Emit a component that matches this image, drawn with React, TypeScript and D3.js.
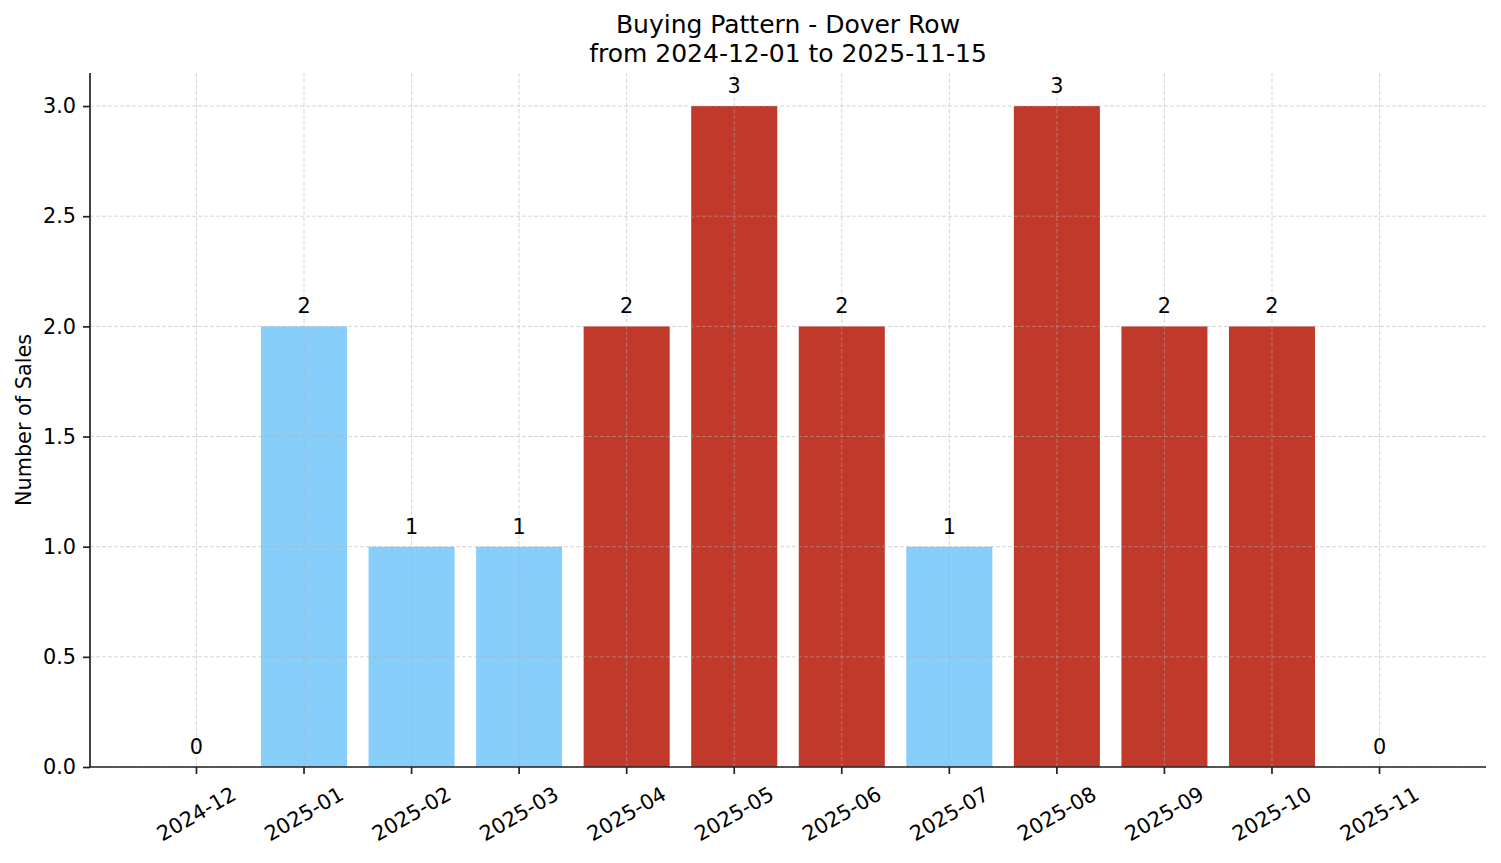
import { useEffect, useRef } from "react";
import * as d3 from "d3";

const months = [
  "2024-12", "2025-01", "2025-02", "2025-03", "2025-04", "2025-05",
  "2025-06", "2025-07", "2025-08", "2025-09", "2025-10", "2025-11",
];
const sales = [0, 2, 1, 1, 2, 3, 2, 1, 3, 2, 2, 0];
// months drawn in the red "peak" colour
const peakMonths = ["2025-04", "2025-05", "2025-06", "2025-08", "2025-09", "2025-10"];
const yTicks = [0, 0.5, 1, 1.5, 2, 2.5, 3];
const titleLines = ["Buying Pattern - Dover Row", "from 2024-12-01 to 2025-11-15"];
const yLabel = "Number of Sales";

const W = 1501;
const H = 863;
const FONT = "DejaVu Sans, sans-serif";

export default function App() {
  const svgRef = useRef<SVGSVGElement>(null);

  useEffect(() => {
    if (!svgRef.current) return;
    const svg = d3.select(svgRef.current);
    svg.selectAll("*").remove();

    const left = 90, right = 1486, top = 73, bottom = 767;

    const x = d3.scaleBand<string>()
      .domain(months)
      .range([left, right])
      .paddingInner(0.2)
      .paddingOuter(0.59);

    const y = d3.scaleLinear()
      .domain([0, 3.15])
      .range([bottom, top]);

    const data = months.map((m, i) => ({ month: m, value: sales[i] }));

    // Bars
    svg.append("g")
      .selectAll("rect")
      .data(data)
      .enter()
      .append("rect")
      .attr("x", d => x(d.month)!)
      .attr("y", d => y(d.value))
      .attr("width", x.bandwidth())
      .attr("height", d => y(0) - y(d.value))
      .attr("fill", d => peakMonths.includes(d.month) ? "#C0392B" : "#87CEFA");

    // Grid (drawn over bars, faint)
    const grid = svg.append("g")
      .attr("stroke", "#b0b0b0")
      .attr("stroke-opacity", 0.5)
      .attr("stroke-width", 1)
      .attr("stroke-dasharray", "4,2");
    grid.selectAll("line.h")
      .data(yTicks)
      .enter()
      .append("line")
      .attr("x1", left)
      .attr("x2", right)
      .attr("y1", d => y(d))
      .attr("y2", d => y(d));
    grid.selectAll("line.v")
      .data(months)
      .enter()
      .append("line")
      .attr("x1", d => x(d)! + x.bandwidth() / 2)
      .attr("x2", d => x(d)! + x.bandwidth() / 2)
      .attr("y1", top)
      .attr("y2", bottom);

    // Value labels
    svg.append("g")
      .selectAll("text")
      .data(data)
      .enter()
      .append("text")
      .attr("x", d => x(d.month)! + x.bandwidth() / 2)
      .attr("y", d => y(d.value) - 13)
      .attr("text-anchor", "middle")
      .attr("font-family", FONT)
      .attr("font-size", "20.8px")
      .attr("fill", "#000")
      .text(d => String(d.value));

    // Y axis
    const yAxis = svg.append("g")
      .attr("transform", `translate(${left},0)`)
      .call(d3.axisLeft(y).tickValues(yTicks).tickFormat(d3.format(".1f")).tickSize(7).tickPadding(7));
    yAxis.select(".domain").attr("stroke", "#222").attr("stroke-width", 1.7).attr("d", `M0,${top}V${bottom}`);
    yAxis.selectAll(".tick line").attr("stroke", "#222").attr("stroke-width", 1.7);
    yAxis.selectAll(".tick text")
      .attr("fill", "#000")
      .attr("font-family", FONT)
      .attr("font-size", "20.8px");

    // X axis
    const xAxis = svg.append("g")
      .attr("transform", `translate(0,${bottom})`)
      .call(d3.axisBottom(x).tickSize(7).tickFormat(() => ""));
    xAxis.select(".domain").attr("stroke", "#222").attr("stroke-width", 1.7).attr("d", `M${left},0H${right}`);
    xAxis.selectAll(".tick line").attr("stroke", "#222").attr("stroke-width", 1.7);

    svg.append("g")
      .selectAll("text")
      .data(months)
      .enter()
      .append("text")
      .attr("transform", d => `translate(${x(d)! + x.bandwidth() / 2},${bottom + 47}) rotate(-30)`)
      .attr("text-anchor", "middle")
      .attr("dominant-baseline", "central")
      .attr("font-family", FONT)
      .attr("font-size", "20.8px")
      .attr("fill", "#000")
      .text(d => d);

    // Y label
    svg.append("text")
      .attr("transform", `translate(31,${(top + bottom) / 2}) rotate(-90)`)
      .attr("text-anchor", "middle")
      .attr("font-family", FONT)
      .attr("font-size", "20.8px")
      .attr("fill", "#000")
      .text(yLabel);

    // Title
    svg.append("g")
      .selectAll("text")
      .data(titleLines)
      .enter()
      .append("text")
      .attr("x", (left + right) / 2)
      .attr("y", (_, i) => 33 + i * 29)
      .attr("text-anchor", "middle")
      .attr("font-family", FONT)
      .attr("font-size", "25px")
      .attr("fill", "#000")
      .text(d => d);
  }, []);

  return (
    <svg
      ref={svgRef}
      width={W}
      height={H}
      style={{ position: "absolute", left: 0, top: 0, background: "#fff" }}
    />
  );
}
